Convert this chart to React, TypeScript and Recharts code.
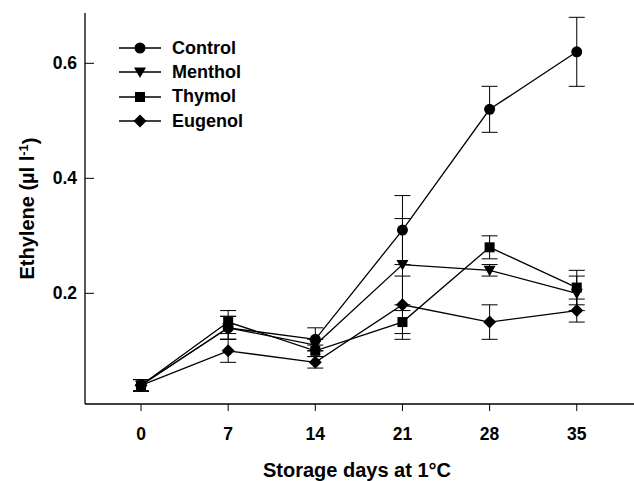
import React from 'react';
import { LineChart, Line, XAxis, YAxis, ErrorBar, Legend } from 'recharts';

const days = [0, 7, 14, 21, 28, 35];
const dayTicks = [0, 7, 14, 21, 28, 35];
const yTicks = [0.2, 0.4, 0.6];

const control = [0.04, 0.14, 0.12, 0.31, 0.52, 0.62];
const controlErr = [0.01, 0.02, 0.02, 0.06, 0.04, 0.06];
const menthol = [0.04, 0.14, 0.11, 0.25, 0.24, 0.2];
const mentholErr = [0.01, 0.02, 0.01, 0.08, 0.01, 0.03];
const thymol = [0.04, 0.15, 0.1, 0.15, 0.28, 0.21];
const thymolErr = [0.01, 0.02, 0.01, 0.03, 0.02, 0.03];
const eugenol = [0.04, 0.1, 0.08, 0.18, 0.15, 0.17];
const eugenolErr = [0.01, 0.02, 0.01, 0.05, 0.03, 0.02];

const seriesNames = ['Control', 'Menthol', 'Thymol', 'Eugenol'];
const seriesKeys = ['control', 'menthol', 'thymol', 'eugenol'];
const seriesShapes = ['circle', 'triangle', 'square', 'diamond'];

const data = days.map((d, i) => ({
  day: d,
  control: control[i],
  controlErr: controlErr[i],
  menthol: menthol[i],
  mentholErr: mentholErr[i],
  thymol: thymol[i],
  thymolErr: thymolErr[i],
  eugenol: eugenol[i],
  eugenolErr: eugenolErr[i],
}));

const FONT = '"Liberation Sans", Arial, Helvetica, sans-serif';

function Marker({ shape, cx, cy }: { shape: string; cx: number; cy: number }) {
  if (cx == null || cy == null) return null;
  if (shape === 'circle') return <circle cx={cx} cy={cy} r={5.5} fill="#000" />;
  if (shape === 'triangle')
    return (
      <polygon
        points={`${cx - 6},${cy - 4.5} ${cx + 6},${cy - 4.5} ${cx},${cy + 6}`}
        fill="#000"
      />
    );
  if (shape === 'square') return <rect x={cx - 5} y={cy - 5} width={10} height={10} fill="#000" />;
  return (
    <polygon
      points={`${cx},${cy - 6.5} ${cx + 6.5},${cy} ${cx},${cy + 6.5} ${cx - 6.5},${cy}`}
      fill="#000"
    />
  );
}

const LegendContent = () => (
  <div style={{ fontFamily: FONT, fontWeight: 700, fontSize: 18 }}>
    {seriesNames.map((n, i) => (
      <div key={n} style={{ display: 'flex', alignItems: 'center', height: 24.3 }}>
        <svg width={44} height={16} style={{ display: 'block' }}>
          <line x1={1} y1={8} x2={43} y2={8} stroke="#000" strokeWidth={1.3} />
          <Marker shape={seriesShapes[i]} cx={22} cy={8} />
        </svg>
        <span style={{ marginLeft: 10 }}>{n}</span>
      </div>
    ))}
  </div>
);

const YTick = (props: any) => {
  const { x, y, payload } = props;
  return (
    <g>
      <line x1={x + 8} y1={y} x2={x + 17} y2={y} stroke="#000" strokeWidth={1} />
      <text
        x={x}
        y={y}
        dy="0.35em"
        textAnchor="end"
        fontFamily={FONT}
        fontWeight={700}
        fontSize={17.5}
        fill="#000"
      >
        {payload.value.toFixed(1)}
      </text>
    </g>
  );
};

const YLabel = (props: any) => {
  const vb = props.viewBox || {};
  const cx = 27;
  const cy = (vb.y || 13) + (vb.height || 391) / 2;
  return (
    <text
      transform={`translate(${cx},${cy}) rotate(-90)`}
      textAnchor="middle"
      dy="0.35em"
      fontFamily={FONT}
      fontWeight={700}
      fontSize={20}
      fill="#000"
    >
      Ethylene (µl l
      <tspan dy="-0.45em" fontSize={13}>-1</tspan>
      <tspan dy="0.45em">)</tspan>
    </text>
  );
};

const XLabel = (props: any) => {
  const vb = props.viewBox || {};
  const cx = (vb.x || 85) + (vb.width || 554) / 2 - 5;
  return (
    <text
      x={cx}
      y={477}
      textAnchor="middle"
      fontFamily={FONT}
      fontWeight={700}
      fontSize={20}
      fill="#000"
    >
      Storage days at 1°C
    </text>
  );
};

export default function App() {
  return (
    <div
      style={{
        position: 'absolute',
        left: 0,
        top: 0,
        width: 634,
        height: 481,
        overflow: 'hidden',
        background: '#fff',
      }}
    >
      <LineChart
        width={680}
        height={481}
        data={data}
        margin={{ top: 13, right: 41, left: 0, bottom: 0 }}
      >
        <XAxis
          dataKey="day"
          type="number"
          domain={[-4.5, 40]}
          ticks={dayTicks}
          allowDataOverflow
          height={77}
          tickSize={7}
          tickMargin={17}
          axisLine={{ stroke: '#000', strokeWidth: 1.3 }}
          tickLine={{ stroke: '#000', strokeWidth: 1 }}
          tick={{ fill: '#000', fontFamily: FONT, fontWeight: 700, fontSize: 17.5 }}
          label={<XLabel />}
        />
        <XAxis
          xAxisId="top"
          orientation="top"
          type="number"
          domain={[-4.5, 40]}
          height={0}
          tick={false}
          tickLine={false}
          axisLine={{ stroke: '#000', strokeWidth: 1.3 }}
        />
        <YAxis
          type="number"
          domain={[0.0075, 0.6875]}
          ticks={yTicks}
          allowDataOverflow
          width={85}
          tickSize={0}
          tickMargin={8}
          axisLine={{ stroke: '#000', strokeWidth: 1.3 }}
          tickLine={false}
          tick={<YTick />}
          label={<YLabel />}
        />
        <Legend
          layout="vertical"
          verticalAlign="middle"
          align="center"
          content={<LegendContent />}
          wrapperStyle={{ position: 'absolute', left: 118, top: 36, width: 160 }}
        />
        {seriesKeys.map((k, i) => (
          <Line
            key={k}
            dataKey={k}
            name={seriesNames[i]}
            type="linear"
            stroke="#000"
            strokeWidth={1.3}
            isAnimationActive={false}
            dot={(p: any) => (
              <Marker key={`${k}-${p.index}`} shape={seriesShapes[i]} cx={p.cx} cy={p.cy} />
            )}
            activeDot={false}
          >
            <ErrorBar dataKey={`${k}Err`} width={8} stroke="#000" strokeWidth={1} direction="y" />
          </Line>
        ))}
      </LineChart>
    </div>
  );
}
